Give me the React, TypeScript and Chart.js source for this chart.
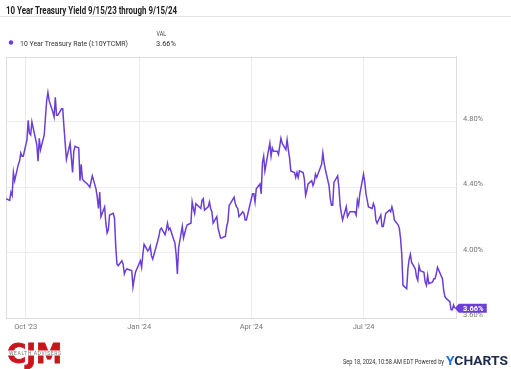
import React, { useEffect, useRef } from "react";
import { Chart, registerables } from "chart.js";
Chart.register(...registerables);

const TITLE = "10 Year Treasury Yield 9/15/23 through 9/15/24";
const SERIES_NAME = "10 Year Treasury Rate (I:10YTCMR)";
const LAST_LABEL = "3.66%";
const FOOTER_TEXT = "Sep 18, 2024, 10:58 AM EDT Powered by";

const RANGE_START = "2023-09-15";
const RANGE_END = "2024-09-14";

const DATES = [
  "2023-09-15","2023-09-18","2023-09-19","2023-09-20","2023-09-21","2023-09-22","2023-09-25","2023-09-26","2023-09-27","2023-09-28","2023-09-29",
  "2023-10-02","2023-10-03","2023-10-04","2023-10-05","2023-10-06","2023-10-10","2023-10-11","2023-10-12","2023-10-13","2023-10-16","2023-10-17","2023-10-18","2023-10-19","2023-10-20","2023-10-23","2023-10-24","2023-10-25","2023-10-26","2023-10-27","2023-10-30","2023-10-31",
  "2023-11-01","2023-11-02","2023-11-03","2023-11-06","2023-11-07","2023-11-08","2023-11-09","2023-11-10","2023-11-13","2023-11-14","2023-11-15","2023-11-16","2023-11-17","2023-11-20","2023-11-21","2023-11-22","2023-11-24","2023-11-27","2023-11-28","2023-11-29","2023-11-30",
  "2023-12-01","2023-12-04","2023-12-05","2023-12-06","2023-12-07","2023-12-08","2023-12-11","2023-12-12","2023-12-13","2023-12-14","2023-12-15","2023-12-18","2023-12-19","2023-12-20","2023-12-21","2023-12-22","2023-12-26","2023-12-27","2023-12-28","2023-12-29",
  "2024-01-02","2024-01-03","2024-01-04","2024-01-05","2024-01-08","2024-01-09","2024-01-10","2024-01-11","2024-01-12","2024-01-16","2024-01-17","2024-01-18","2024-01-19","2024-01-22","2024-01-23","2024-01-24","2024-01-25","2024-01-26","2024-01-29","2024-01-30","2024-01-31",
  "2024-02-01","2024-02-02","2024-02-05","2024-02-06","2024-02-07","2024-02-08","2024-02-09","2024-02-12","2024-02-13","2024-02-14","2024-02-15","2024-02-16","2024-02-20","2024-02-21","2024-02-22","2024-02-23","2024-02-26","2024-02-27","2024-02-28","2024-02-29",
  "2024-03-01","2024-03-04","2024-03-05","2024-03-06","2024-03-07","2024-03-08","2024-03-11","2024-03-12","2024-03-13","2024-03-14","2024-03-15","2024-03-18","2024-03-19","2024-03-20","2024-03-21","2024-03-22","2024-03-25","2024-03-26","2024-03-27","2024-03-28",
  "2024-04-01","2024-04-02","2024-04-03","2024-04-04","2024-04-05","2024-04-08","2024-04-09","2024-04-10","2024-04-11","2024-04-12","2024-04-15","2024-04-16","2024-04-17","2024-04-18","2024-04-19","2024-04-22","2024-04-23","2024-04-24","2024-04-25","2024-04-26","2024-04-29","2024-04-30",
  "2024-05-01","2024-05-02","2024-05-03","2024-05-06","2024-05-07","2024-05-08","2024-05-09","2024-05-10","2024-05-13","2024-05-14","2024-05-15","2024-05-16","2024-05-17","2024-05-20","2024-05-21","2024-05-22","2024-05-23","2024-05-24","2024-05-28","2024-05-29","2024-05-30","2024-05-31",
  "2024-06-03","2024-06-04","2024-06-05","2024-06-06","2024-06-07","2024-06-10","2024-06-11","2024-06-12","2024-06-13","2024-06-14","2024-06-17","2024-06-18","2024-06-20","2024-06-21","2024-06-24","2024-06-25","2024-06-26","2024-06-27","2024-06-28",
  "2024-07-01","2024-07-02","2024-07-03","2024-07-05","2024-07-08","2024-07-09","2024-07-10","2024-07-11","2024-07-12","2024-07-15","2024-07-16","2024-07-17","2024-07-18","2024-07-19","2024-07-22","2024-07-23","2024-07-24","2024-07-25","2024-07-26","2024-07-29","2024-07-30","2024-07-31",
  "2024-08-01","2024-08-02","2024-08-05","2024-08-06","2024-08-07","2024-08-08","2024-08-09","2024-08-12","2024-08-13","2024-08-14","2024-08-15","2024-08-16","2024-08-19","2024-08-20","2024-08-21","2024-08-22","2024-08-23","2024-08-26","2024-08-27","2024-08-28","2024-08-29","2024-08-30",
  "2024-09-03","2024-09-04","2024-09-05","2024-09-06","2024-09-09","2024-09-10","2024-09-11","2024-09-12","2024-09-13",
];

const YIELDS = [
  4.33,4.32,4.37,4.35,4.49,4.44,4.54,4.56,4.61,4.59,4.59,
  4.69,4.81,4.73,4.72,4.80,4.66,4.56,4.70,4.63,4.72,4.83,4.93,4.98,4.93,4.86,4.83,4.95,4.84,4.84,4.88,4.88,
  4.77,4.67,4.57,4.67,4.58,4.49,4.62,4.65,4.64,4.44,4.54,4.45,4.44,4.42,4.41,4.40,4.47,4.39,4.34,4.27,4.37,
  4.22,4.28,4.18,4.12,4.14,4.23,4.24,4.21,4.04,3.93,3.92,3.95,3.93,3.87,3.89,3.90,3.89,3.79,3.84,3.88,
  3.95,3.91,3.99,4.05,4.01,4.02,4.04,3.98,3.96,4.07,4.10,4.14,4.15,4.11,4.14,4.18,4.14,4.15,4.08,4.06,3.99,
  3.87,4.03,4.16,4.09,4.12,4.15,4.17,4.18,4.31,4.27,4.24,4.30,4.27,4.32,4.33,4.26,4.28,4.31,4.27,4.25,
  4.18,4.22,4.15,4.12,4.09,4.09,4.10,4.16,4.19,4.29,4.30,4.34,4.30,4.28,4.27,4.22,4.25,4.24,4.20,4.20,
  4.33,4.36,4.36,4.31,4.39,4.42,4.36,4.55,4.59,4.50,4.63,4.67,4.59,4.64,4.62,4.62,4.60,4.65,4.70,4.67,4.63,4.69,
  4.63,4.58,4.50,4.49,4.46,4.49,4.46,4.50,4.49,4.45,4.35,4.38,4.42,4.44,4.41,4.43,4.48,4.46,4.54,4.61,4.55,4.51,
  4.41,4.33,4.29,4.29,4.43,4.47,4.40,4.29,4.24,4.20,4.28,4.22,4.25,4.25,4.25,4.23,4.32,4.29,4.36,
  4.48,4.43,4.36,4.28,4.27,4.30,4.28,4.20,4.18,4.23,4.16,4.16,4.20,4.24,4.26,4.25,4.28,4.25,4.20,4.17,4.15,4.09,
  3.99,3.80,3.78,3.90,3.96,3.99,3.94,3.90,3.85,3.83,3.92,3.89,3.88,3.82,3.80,3.86,3.81,3.82,3.84,3.84,3.87,3.91,
  3.84,3.77,3.73,3.72,3.70,3.65,3.65,3.68,3.66,
];

const X_TICK_DATES = ["2023-10-01", "2024-01-01", "2024-04-01", "2024-07-01"];
const X_TICK_LABELS = ["Oct '23", "Jan '24", "Apr '24", "Jul '24"];
const Y_TICKS = [3.6, 4.0, 4.4, 4.8];
const Y_MIN = 3.6;
const Y_MAX = 5.2;

const LINE_COLOR = "#6b3fd6";

const dayIndex = (d: string) => (Date.parse(d) - Date.parse(RANGE_START)) / 86400000;

export default function App() {
  const canvasRef = useRef<HTMLCanvasElement | null>(null);

  useEffect(() => {
    if (!canvasRef.current) return;
    const points = DATES.map((d, i) => ({ x: dayIndex(d), y: YIELDS[i] }));

    const boxPlugin = {
      id: "boxPlugin",
      beforeDatasetsDraw(chart: any) {
        const { ctx, chartArea } = chart;
        ctx.save();
        ctx.strokeStyle = "#dedede";
        ctx.lineWidth = 1;
        ctx.beginPath();
        ctx.moveTo(Math.round(chartArea.left) + 0.5, chartArea.bottom);
        ctx.lineTo(Math.round(chartArea.left) + 0.5, Math.round(chartArea.top) + 0.5);
        ctx.lineTo(chartArea.right, Math.round(chartArea.top) + 0.5);
        ctx.stroke();
        ctx.restore();
      },
    };

    const tagPlugin = {
      id: "tagPlugin",
      afterDraw(chart: any) {
        const meta = chart.getDatasetMeta(0);
        const last = meta.data[meta.data.length - 1];
        if (!last) return;
        const px = last.x;
        const py = last.y;
        const { ctx } = chart;
        ctx.save();
        const x0 = px + 4;
        const x1 = px + 32;
        const h = 9;
        ctx.fillStyle = LINE_COLOR;
        ctx.beginPath();
        ctx.moveTo(px, py);
        ctx.lineTo(x0, py - h / 2);
        ctx.lineTo(x1, py - h / 2);
        ctx.lineTo(x1, py + h / 2);
        ctx.lineTo(x0, py + h / 2);
        ctx.closePath();
        ctx.fill();
        ctx.fillStyle = "#ffffff";
        ctx.font = "bold 7.5px Roboto";
        ctx.textAlign = "center";
        ctx.textBaseline = "middle";
        ctx.fillText(LAST_LABEL, (x0 + x1) / 2 + 0.5, py + 0.5);
        ctx.restore();
      },
    };

    const chart = new Chart(canvasRef.current, {
      type: "line",
      data: {
        datasets: [
          {
            label: SERIES_NAME,
            data: points,
            borderColor: LINE_COLOR,
            borderWidth: 1.5,
            pointRadius: 0,
            tension: 0,
            fill: false,
          },
        ],
      },
      options: {
        animation: false,
        responsive: false,
        maintainAspectRatio: false,
        layout: { padding: { left: 6, top: 8, right: 0, bottom: 0 } },
        plugins: { legend: { display: false }, tooltip: { enabled: false } },
        scales: {
          x: {
            type: "linear",
            min: 0,
            max: dayIndex(RANGE_END),
            afterBuildTicks: (s: any) => {
              s.ticks = X_TICK_DATES.map((d) => ({ value: dayIndex(d) }));
            },
            afterFit: (s: any) => {
              s.height = 22;
            },
            grid: { color: "#ececec", drawTicks: false, lineWidth: 1 },
            border: { display: true, color: "#dcdcdc" },
            ticks: {
              autoSkip: false,
              maxRotation: 0,
              padding: 5,
              color: "#777",
              font: { family: "Roboto", size: 7.5 },
              callback: (_v: any, i: number) => X_TICK_LABELS[i],
            },
          },
          y: {
            position: "right",
            min: Y_MIN,
            max: Y_MAX,
            afterBuildTicks: (s: any) => {
              s.ticks = Y_TICKS.map((v) => ({ value: v }));
            },
            afterFit: (s: any) => {
              s.width = 55;
            },
            grid: { color: "#ececec", drawTicks: false, lineWidth: 1 },
            border: { display: true, color: "#dedede" },
            ticks: {
              padding: 7,
              labelOffset: -3,
              color: "#777",
              font: { family: "Roboto", size: 7.5 },
              callback: (v: any) => Number(v).toFixed(2) + "%",
            },
          },
        },
      },
      plugins: [boxPlugin, tagPlugin],
    } as any);

    return () => chart.destroy();
  }, []);

  return (
    <div
      style={{
        position: "fixed",
        left: 0,
        top: 0,
        width: 511,
        height: 369,
        background: "#ffffff",
        overflow: "hidden",
      }}
    >
      <canvas
        ref={canvasRef}
        width={511}
        height={295}
        style={{ position: "absolute", left: 0, top: 45, width: 511, height: 295 }}
      />
      <svg
        width={511}
        height={369}
        style={{ position: "absolute", left: 0, top: 0, pointerEvents: "none" }}
      >
        <text
          x={6}
          y={13.5}
          fontFamily="Roboto"
          fontWeight="bold"
          fontSize={10}
          fill="#222"
          textLength={171}
          lengthAdjust="spacingAndGlyphs"
        >
          {TITLE}
        </text>
        <line x1={0} y1={16.5} x2={511} y2={16.5} stroke="#e2e2e2" strokeWidth={1} />
        <text x={156.5} y={36} fontFamily="Roboto" fontSize={8} fill="#444" textLength={9.5} lengthAdjust="spacingAndGlyphs">
          VAL
        </text>
        <circle cx={11} cy={42.5} r={2.2} fill={LINE_COLOR} />
        <text
          x={20}
          y={45.5}
          fontFamily="Roboto"
          fontSize={8}
          fill="#333"
          textLength={108}
          lengthAdjust="spacingAndGlyphs"
        >
          {SERIES_NAME}
        </text>
        <text x={156} y={45.5} fontFamily="Roboto" fontSize={8} fill="#333" textLength={20} lengthAdjust="spacingAndGlyphs">
          {LAST_LABEL}
        </text>

        <text
          x={7}
          y={363}
          fontFamily="DejaVu Sans"
          fontWeight="900"
          fontSize={26}
          fill="#c8161d"
          stroke="#c8161d"
          strokeWidth={0.8}
          textLength={55}
          lengthAdjust="spacingAndGlyphs"
        >
          CJM
        </text>
        <rect x={6} y={350.5} width={58} height={5} fill="#ffffff" />
        <text
          x={9}
          y={355}
          fontFamily="Roboto"
          fontSize={5}
          fill="#777"
          textLength={52}
          lengthAdjust="spacing"
        >
          WEALTH ADVISERS
        </text>

        <text
          x={343}
          y={364}
          fontFamily="Roboto"
          fontSize={7}
          fill="#333"
          textLength={101}
          lengthAdjust="spacingAndGlyphs"
        >
          {FOOTER_TEXT}
        </text>
        <text
          x={446}
          y={365}
          fontFamily="Roboto"
          fontWeight="bold"
          fontSize={12}
          fill="#1c2b4b"
          textLength={62}
          lengthAdjust="spacingAndGlyphs"
        >
          <tspan fill="#1f6fd8">Y</tspan>CHARTS
        </text>
      </svg>
    </div>
  );
}
